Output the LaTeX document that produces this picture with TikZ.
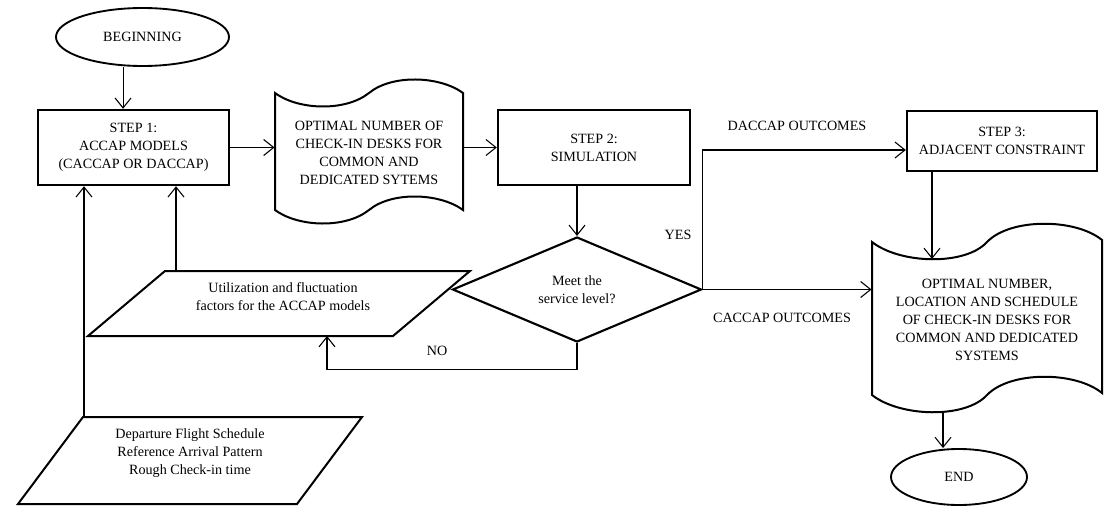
\documentclass[tikz,border=0pt]{standalone}
\usepackage{fontspec}
\setmainfont{Liberation Serif}
\usetikzlibrary{shapes.geometric,arrows.meta}

\tikzset{every picture/.style={line width=0.75pt}}
\tikzset{
  every node/.style={font=\fontsize{10.6}{13.5}\selectfont, align=center},
  stepbox/.style={draw, line width=1.8pt, rectangle, inner sep=0pt},
  termnode/.style={draw, line width=1.4pt, ellipse, inner sep=0pt},
  decide/.style={draw, line width=1.6pt, diamond, aspect=2.4, inner sep=0pt},
  txtnode/.style={inner sep=0pt},
  outline/.style={line width=1.5pt, line join=miter},
  arr/.style={-{Straight Barb[length=7.5pt,width=12pt]}, line width=0.8pt},
}

\begin{document}
\begin{tikzpicture}[x=0.75pt,y=0.75pt,yscale=-1,xscale=1]
\useasboundingbox (0,0) rectangle (1105,506);

%Shape: Ellipse [start]
\node[termnode, minimum width=129.75pt, minimum height=43.5pt] (start) at (142.5,37) {BEGINNING};
%Shape: Rectangle [step 1]
\node[stepbox, minimum width=143.25pt, minimum height=56.25pt] (step1) at (133.5,147.5) {STEP 1:\\ACCAP MODELS\\(CACCAP OR DACCAP)};

%Shape: Tape [first outcome]
\draw[outline] (275,93) .. controls (298,110) and (345,112) .. (369,93) .. controls (392,74) and (440,76) .. (463,93) -- (463,210) .. controls (440,193) and (392,191) .. (369,210) .. controls (345,229) and (298,227) .. (275,210) -- cycle ;
\node[txtnode, minimum width=141pt, minimum height=75pt] (doc1) at (369,153) {OPTIMAL NUMBER OF\\CHECK-IN DESKS FOR\\COMMON AND\\DEDICATED SYTEMS};

%Shape: Rectangle [step 2]
\node[stepbox, minimum width=144pt, minimum height=56.25pt] (step2) at (594,147.5) {STEP 2:\\SIMULATION};
%Shape: Diamond
\node[decide, minimum width=186.75pt, minimum height=78.75pt] (meet) at (577,289.5) {Meet the\\service level?};

%Parallelogram [factors]
\draw[outline] (165,271) -- (470,271) -- (393,336) -- (88,336) -- cycle ;
\node[txtnode] (factors) at (283,297) {Utilization and fluctuation\\factors for the ACCAP models};
%Parallelogram [input data]
\draw[outline] (83,417) -- (362,417) -- (297,504) -- (18,504) -- cycle ;
\node[txtnode] (input) at (190,453) {Departure Flight Schedule\\Reference Arrival Pattern\\Rough Check-in time};

%Shape: Rectangle [step 3]
\node[stepbox, minimum width=142.5pt, minimum height=45pt] (step3) at (1002,141) {STEP 3:\\ADJACENT CONSTRAINT};

%Shape: Tape [final outcome]
\draw[outline] (872,242) .. controls (900,264) and (965,266) .. (987,242) .. controls (1010,218) and (1075,218) .. (1102,240) -- (1102,393) .. controls (1075,371) and (1010,371) .. (987,395) .. controls (965,419) and (900,417) .. (872,395) -- cycle ;
\node[txtnode, minimum width=172.5pt] (doc2) at (987,320) {OPTIMAL NUMBER,\\LOCATION AND SCHEDULE\\OF CHECK-IN DESKS FOR\\COMMON AND DEDICATED\\SYSTEMS};

%Shape: Ellipse [finish]
\node[termnode, minimum width=102pt, minimum height=42pt] (finish) at (959,477) {END};

% connector ends
\coordinate (startout) at ([xshift=-14.6pt]start.south);
\coordinate (facout) at (176,271);
\coordinate (inpout) at (84,417);
\coordinate (noin) at (327,336);
\coordinate (doc2in) at (932,259);
\coordinate (doc2out) at (943,412);

% connectors
\draw[arr] (startout) -- (startout |- step1.north);
\draw[arr] (step1.east) -- (step1.east -| doc1.west);
\draw[arr] (doc1.east |- step2.west) -- (step2.west);
\draw[arr] (meet.north |- step2.south) -- (meet.north);
\draw[arr] (meet.east) -- (meet.east -| doc2.west);
\draw[arr] (meet.east) |- ([yshift=6.75pt]step3.west);
\draw[arr] (step3.south -| doc2in) -- (doc2in);
\draw[arr] (doc2out) -- (doc2out |- finish.north);
\draw[arr] (facout) -- (facout |- step1.south);
\draw[arr] (inpout) -- (inpout |- step1.south);
\draw[arr] (meet.south) -- ++(0,26) -| (noin);

% Text Node
\node (daccap) at (797,126) {DACCAP OUTCOMES};
% Text Node
\node (caccap) at (782,318) {CACCAP OUTCOMES};
% Text Node
\node (yes) at (678,235) {YES};
% Text Node
\node (no) at (437,351) {NO};

\end{tikzpicture}
\end{document}
